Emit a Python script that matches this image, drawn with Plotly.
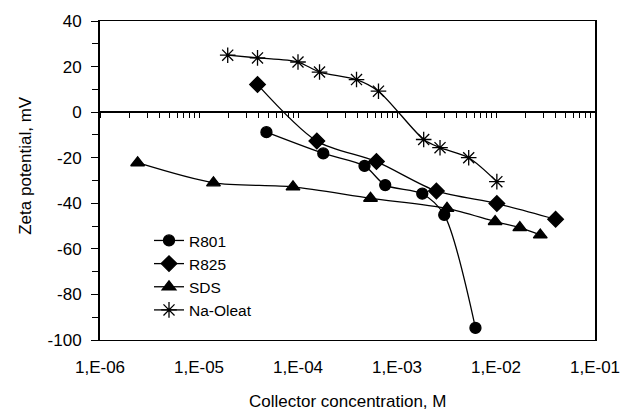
import plotly.graph_objects as go

# Data (concentration in M, zeta potential in mV)
r801_x = [4.8e-5, 1.8e-4, 4.7e-4, 7.6e-4, 1.8e-3, 3.0e-3, 6.2e-3]
r801_y = [-8.8, -18.1, -23.6, -32.0, -35.8, -45.1, -94.7]

r825_x = [3.9e-5, 1.55e-4, 6.2e-4, 2.5e-3, 1.02e-2, 4.0e-2]
r825_y = [12.1, -12.7, -21.7, -34.6, -40.1, -47.0]

sds_x = [2.4e-6, 1.4e-5, 8.9e-5, 5.4e-4, 3.2e-3, 9.8e-3, 1.74e-2, 2.8e-2]
sds_y = [-22.2, -31.0, -32.8, -37.8, -42.2, -48.0, -50.7, -53.9]

oleat_x = [1.95e-5, 3.9e-5, 1.0e-4, 1.65e-4, 3.9e-4, 6.5e-4, 1.86e-3, 2.72e-3, 5.3e-3, 1.02e-2]
oleat_y = [25.0, 23.8, 22.0, 17.6, 14.3, 9.2, -12.0, -15.6, -20.0, -30.5]

decades = [1e-6, 1e-5, 1e-4, 1e-3, 1e-2, 1e-1]
decade_labels = ["1,E-06", "1,E-05", "1,E-04", "1,E-03", "1,E-02", "1,E-01"]
zero_axis_ticks = [k * d for d in decades[:-1] for k in range(1, 10)] + [1e-1]

y_ticks = [40, 20, 0, -20, -40, -60, -80, -100]
y_labels = ["40", "20", "0", "-20", "-40", "-60", "-80", "-100"]

FONT = "Liberation Sans, Arial, sans-serif"
BLACK = "black"

fig = go.Figure()

series = [
    ("R801", r801_x, r801_y, "circle", 11),
    ("R825", r825_x, r825_y, "diamond", 12),
    ("SDS", sds_x, sds_y, "triangle-up", 12),
    ("Na-Oleat", oleat_x, oleat_y, "asterisk-open", 13),
]
for name, xs, ys, sym, sz in series:
    fig.add_trace(go.Scatter(
        x=xs, y=ys, name=name, mode="lines+markers",
        line=dict(color=BLACK, width=1.3, shape="spline", smoothing=0.8),
        marker=dict(symbol=sym, size=sz, color=BLACK,
                    line=dict(color=BLACK, width=1.3)),
    ))

# invisible trace to activate the overlay axis that draws the y=0 line with ticks
fig.add_trace(go.Scatter(x=[1e-6, 1e-1], y=[0, 0], xaxis="x2", mode="lines",
                         line=dict(width=0), showlegend=False, hoverinfo="skip"))

fig.update_layout(
    width=632, height=414,
    margin=dict(l=100, r=29, t=20, b=74),
    paper_bgcolor="white", plot_bgcolor="white",
    font=dict(family=FONT, size=17, color=BLACK),
    showlegend=True,
    legend=dict(x=0.099, y=0.364, xanchor="left", yanchor="top",
                bgcolor="rgba(0,0,0,0)", font=dict(size=15.5),
                tracegroupgap=0),
    xaxis=dict(type="log", range=[-6, -1], tickvals=decades, ticktext=decade_labels,
               ticks="", showline=True, linecolor=BLACK, linewidth=1.3, mirror=True,
               showgrid=False, zeroline=False, tickfont=dict(size=17),
               ticklabelstandoff=11),
    xaxis2=dict(type="log", range=[-6, -1], overlaying="x", anchor="free",
                position=100 / 140, tickvals=zero_axis_ticks, showticklabels=False,
                ticks="outside", ticklen=5, tickcolor=BLACK, tickwidth=1,
                showline=True, linecolor=BLACK, linewidth=1.5, showgrid=False,
                zeroline=False),
    yaxis=dict(range=[-100, 40], tickvals=y_ticks, ticktext=y_labels,
               ticks="outside", ticklen=7,
               tickcolor=BLACK, tickwidth=1.3,
               minor=dict(dtick=10, ticks="outside", ticklen=6, tickcolor=BLACK, tickwidth=1.3),
               showline=True, linecolor=BLACK, linewidth=2, mirror=True,
               showgrid=False, zeroline=False, tickfont=dict(size=17),
               ticklabelstandoff=6),
    annotations=[
        dict(text="Collector concentration, M", xref="paper", yref="paper",
             x=0.5, y=-0.194, yanchor="middle", xanchor="center",
             showarrow=False, font=dict(size=17)),
        dict(text="Zeta potential, mV", xref="paper", yref="paper",
             x=-0.151, y=0.547, xanchor="center", yanchor="middle", textangle=-90,
             showarrow=False, font=dict(size=17)),
    ],
)

fig.write_html("out.html")
